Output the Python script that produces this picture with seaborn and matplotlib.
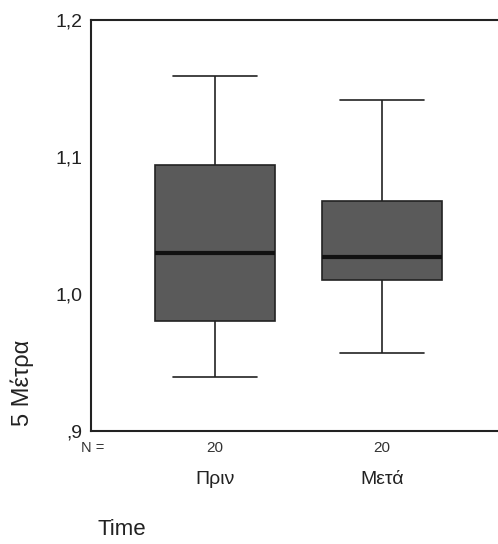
import numpy as np
import pandas as pd
import matplotlib
matplotlib.use("Agg")
import matplotlib.pyplot as plt
import seaborn as sns

# five-number summaries (min, Q1, median, Q3, max)
groups = ["Πριν", "Μετά"]
priv = [0.939, 0.980, 1.030, 1.094, 1.159]
meta = [0.957, 1.010, 1.027, 1.068, 1.142]
n_counts = [20, 20]
y_ticks = [0.9, 1.0, 1.1, 1.2]
y_tick_labels = [",9", "1,0", "1,1", "1,2"]

df = pd.DataFrame({
    "Time": [groups[0]] * len(priv) + [groups[1]] * len(meta),
    "value": priv + meta,
})

sns.set_style("white")
plt.rcParams["font.family"] = ["Liberation Sans", "DejaVu Sans"]

fig = plt.figure(figsize=(4.98, 5.44), dpi=100)
ax = fig.add_axes([0.183, 0.208, 0.817, 0.755])

sns.boxplot(
    data=df,
    x="Time",
    y="value",
    order=groups,
    whis=(0, 100),
    width=0.72,
    color="#5a5a5a",
    saturation=1,
    linecolor="#222222",
    linewidth=1.2,
    medianprops={"color": "#111111", "linewidth": 3},
    whiskerprops={"color": "#222222", "linewidth": 1.2},
    capprops={"color": "#222222", "linewidth": 1.2},
    capwidths=0.5,
    ax=ax,
)

ax.set_ylim(0.9, 1.2)
ax.set_xlim(-0.74, 1.695)
ax.set_yticks(y_ticks)
ax.set_yticklabels(y_tick_labels, fontsize=14)
ax.set_xticks(range(len(groups)))
ax.set_xticklabels(groups, fontsize=14)
ax.tick_params(axis="x", length=3, width=1.5, pad=26, colors="#222222")
ax.tick_params(axis="y", length=4, width=1, pad=2, colors="#222222")
for lbl in ax.get_xticklabels() + ax.get_yticklabels():
    lbl.set_color("#222222")

for side in ["left", "bottom", "top"]:
    ax.spines[side].set_visible(True)
    ax.spines[side].set_color("#222222")
    ax.spines[side].set_linewidth(1.5)
ax.spines["right"].set_visible(False)

ax.set_xlabel("")
ax.set_ylabel("")

# N = row under the axis
ax.text(-0.80, -0.042, "N =", transform=ax.get_xaxis_transform(),
        ha="left", va="center", fontsize=10.5, color="#333333")
for i, n in enumerate(n_counts):
    ax.text(i, -0.042, str(n), transform=ax.get_xaxis_transform(),
            ha="center", va="center", fontsize=11, color="#333333")

fig.text(0.245, 0.027, "Time", ha="center", va="center", fontsize=16, color="#222222")
fig.text(0.045, 0.296, "5 Μέτρα", rotation=90, ha="center", va="center",
         fontsize=17, color="#222222")

fig.savefig("out.png", dpi=100)
